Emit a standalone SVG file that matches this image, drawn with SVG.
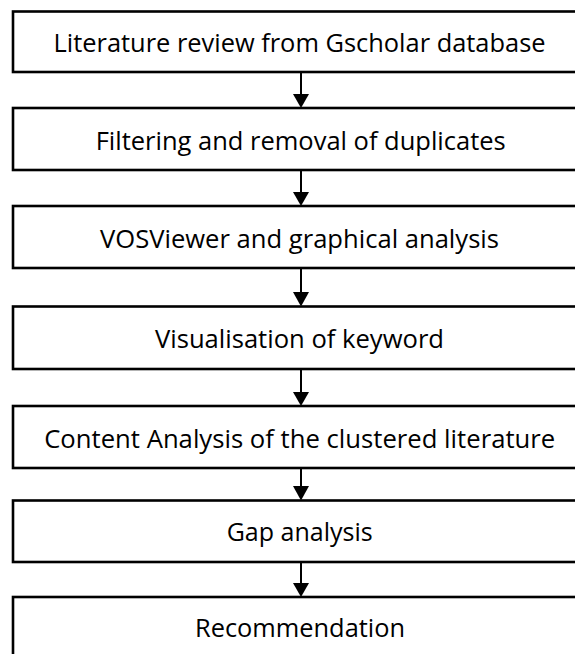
<svg xmlns="http://www.w3.org/2000/svg" width="575" height="654" viewBox="0 0 575 654">
<defs>
<style>
.box{fill:#fff;stroke:#000;stroke-width:2.6}
.lbl{font-family:"Open Sans","Liberation Sans",sans-serif;font-size:25px;fill:#000;text-anchor:middle}
.conn{stroke:#000;stroke-width:2;fill:none}
.head{fill:#000}
</style>
</defs>
<rect width="575" height="654" fill="#fff"/>
<g id="connectors">
<line class="conn" x1="301" y1="72" x2="301" y2="95"/><polygon class="head" points="293,94 309,94 301,108"/>
<line class="conn" x1="301" y1="170" x2="301" y2="193"/><polygon class="head" points="293,192 309,192 301,206"/>
<line class="conn" x1="301" y1="268" x2="301" y2="293"/><polygon class="head" points="293,292 309,292 301,306.5"/>
<line class="conn" x1="301" y1="369" x2="301" y2="393"/><polygon class="head" points="293,392 309,392 301,406"/>
<line class="conn" x1="301" y1="468" x2="301" y2="487"/><polygon class="head" points="293,486 309,486 301,500.5"/>
<line class="conn" x1="301" y1="562" x2="301" y2="584"/><polygon class="head" points="293,583 309,583 301,597"/>
</g>
<g id="n1"><rect class="box" x="13" y="11.5" width="574" height="60.5"/><text class="lbl" x="299.5" y="52.3" textLength="492" lengthAdjust="spacingAndGlyphs">Literature review from Gscholar database</text></g>
<g id="n2"><rect class="box" x="13" y="108" width="574" height="62"/><text class="lbl" x="300.7" y="149.5" textLength="410" lengthAdjust="spacingAndGlyphs">Filtering and removal of duplicates</text></g>
<g id="n3"><rect class="box" x="13" y="206" width="574" height="62"/><text class="lbl" x="299.5" y="247.5" textLength="399" lengthAdjust="spacingAndGlyphs">VOSViewer and graphical analysis</text></g>
<g id="n4"><rect class="box" x="13" y="306.5" width="574" height="62.5"/><text class="lbl" x="299.5" y="348.3" textLength="289" lengthAdjust="spacingAndGlyphs">Visualisation of keyword</text></g>
<g id="n5"><rect class="box" x="13" y="406" width="574" height="62"/><text class="lbl" x="299.7" y="447.5" textLength="511" lengthAdjust="spacingAndGlyphs">Content Analysis of the clustered literature</text></g>
<g id="n6"><rect class="box" x="13" y="500.5" width="574" height="61.5"/><text class="lbl" x="299.7" y="541.3" textLength="146" lengthAdjust="spacingAndGlyphs">Gap analysis</text></g>
<g id="n7"><rect class="box" x="13" y="597" width="574" height="70"/><text class="lbl" x="300" y="636.7" textLength="210" lengthAdjust="spacingAndGlyphs">Recommendation</text></g>
</svg>
